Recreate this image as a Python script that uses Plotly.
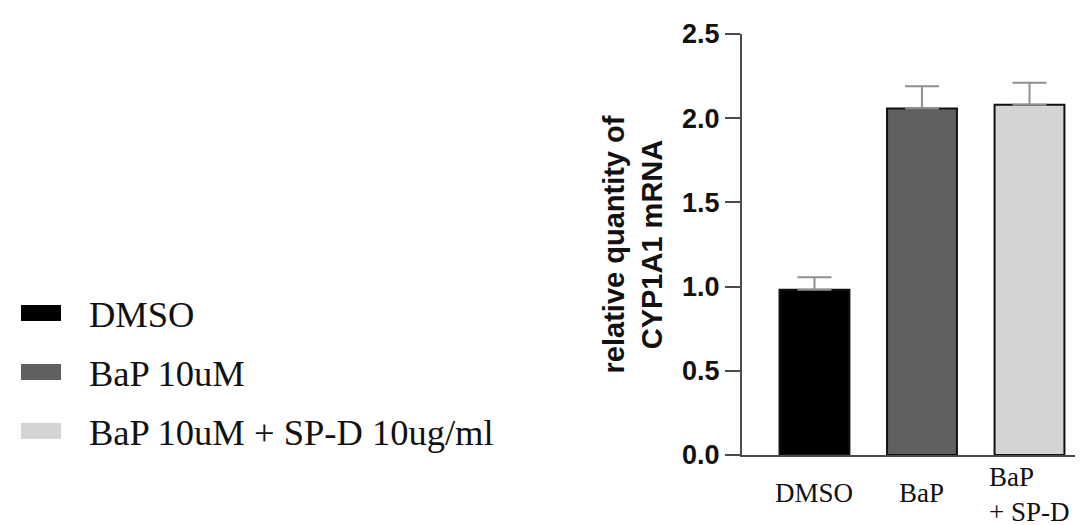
import plotly.graph_objects as go

# ---- data ----
categories = ["DMSO", "BaP", "BaP<br>+ SP-D"]
legend_names = ["DMSO", "BaP 10uM", "BaP 10uM + SP-D 10ug/ml"]
values = [0.982, 2.058, 2.080]
errors = [0.073, 0.132, 0.131]
colors = ["#000000", "#606060", "#d4d4d4"]
y_ticks = [0.0, 0.5, 1.0, 1.5, 2.0, 2.5]
y_title = "relative quantity of<br>CYP1A1 mRNA"

W, H = 1083, 525
ML, MR, MT, MB = 734, 0, 26, 78
PW = W - ML - MR
PH = H - MT - MB

def px_x(p):
    return (p - ML) / PW

def px_y(p):
    return (H - MB - p) / PH

SERIF = "Liberation Serif, Times New Roman, serif"
SANS = "Liberation Sans, Arial, sans-serif"

fig = go.Figure()
for i, (cat, name, v, e, c) in enumerate(zip(categories, legend_names, values, errors, colors)):
    fig.add_trace(go.Bar(
        x=[i], y=[v], name=name, width=0.65,
        marker=dict(color=c, line=dict(color="#111111", width=2)),
        error_y=dict(type="data", array=[e], arrayminus=[0], symmetric=False,
                     color="#8f8f8f", thickness=2, width=17),
        showlegend=False,
    ))

# x category labels (BaP + SP-D left-aligned, as in the reference)
label_y = [485, 485, 486]
for i, cat in enumerate(categories):
    fig.add_annotation(x=i, xref="x", y=px_y(label_y[i]), yref="paper",
                       text=cat, showarrow=False, align="left",
                       xanchor="center", yanchor="middle",
                       font=dict(family=SERIF, size=27, color="#111111"))

# custom legend (wide swatches)
row_y = [305, 364, 423]
for name, c, ry in zip(legend_names, colors, row_y):
    fig.add_shape(type="rect", xref="paper", yref="paper",
                  x0=px_x(13), x1=px_x(53), y0=px_y(ry - 8), y1=px_y(ry + 8),
                  fillcolor=c, line=dict(width=0))
    fig.add_annotation(x=px_x(79), xref="paper", y=px_y(ry + 1), yref="paper",
                       text=name, showarrow=False, xanchor="left", yanchor="middle",
                       font=dict(family=SERIF, size=36.5, color="#111111"))

fig.update_layout(
    width=W, height=H,
    margin=dict(l=ML, r=MR, t=MT, b=MB, autoexpand=False),
    plot_bgcolor="white", paper_bgcolor="white",
    bargap=0.35,
    xaxis=dict(range=[-0.674, 2.572], showticklabels=False, ticks="",
               showline=True, linecolor="#4a4a4a", linewidth=2,
               showgrid=False, zeroline=False, fixedrange=True),
    yaxis=dict(range=[0, 2.5], tickvals=y_ticks, tickformat=".1f",
               ticks="outside", ticklen=15, tickwidth=2, tickcolor="#4a4a4a",
               showline=True, linecolor="#4a4a4a", linewidth=2,
               showgrid=False, zeroline=False,
               tickfont=dict(family=SANS, size=27, color="#111111", weight="bold"),
               title=dict(text=y_title, standoff=11,
                          font=dict(family=SANS, size=29, color="#111111", weight="bold"))),
)

fig.write_html("out.html")
